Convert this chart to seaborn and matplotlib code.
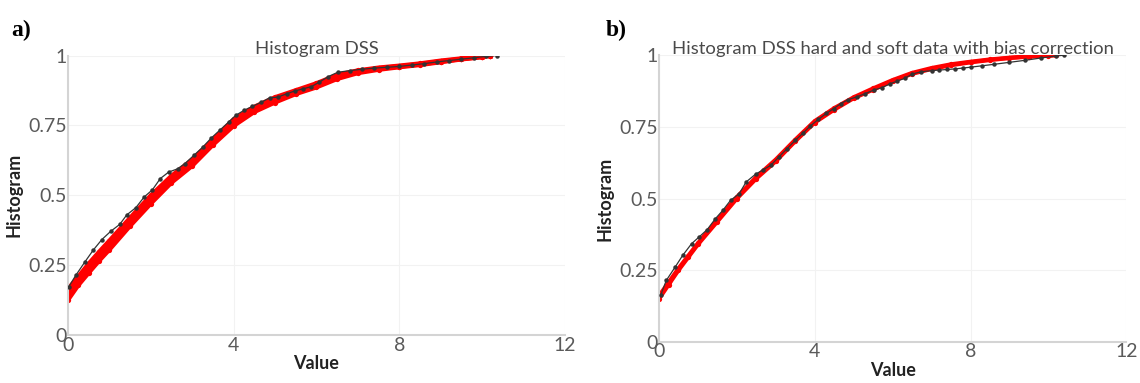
import matplotlib
matplotlib.use("Agg")
import matplotlib.pyplot as plt
import seaborn as sns

# ---------------- data ----------------
# Panel a: observed (black) histogram
obs_a_x = [0.02, 0.19, 0.41, 0.61, 0.82, 1.03, 1.25, 1.42, 1.64, 1.84, 2.04, 2.23, 2.43, 2.65,
           2.82, 3.04, 3.26, 3.46, 3.66, 3.88, 4.05, 4.25, 4.45, 4.67, 4.87, 5.06, 5.28, 5.47,
           5.68, 5.88, 6.07, 6.29, 6.51, 6.8, 7.1, 7.4, 7.7, 8.0, 8.3, 8.6, 8.9, 9.2, 9.5, 9.8,
           10.1, 10.35]
obs_a_y = [0.173, 0.214, 0.262, 0.304, 0.342, 0.371, 0.396, 0.430, 0.456, 0.494, 0.520, 0.560,
           0.583, 0.595, 0.613, 0.643, 0.673, 0.705, 0.732, 0.762, 0.786, 0.804, 0.818, 0.833,
           0.849, 0.851, 0.863, 0.873, 0.881, 0.889, 0.905, 0.925, 0.940, 0.946, 0.951, 0.955,
           0.958, 0.961, 0.966, 0.971, 0.977, 0.982, 0.987, 0.992, 0.997, 1.000]

# Panel a: simulated realizations (red)
sim_x = [0, 0.25, 0.5, 0.75, 1, 1.5, 2, 2.5, 3, 3.5, 4, 4.5, 5, 5.5, 6, 6.5, 7, 7.5, 8, 8.5,
         9, 9.5, 10, 10.2]
sim_a_1 = [0.125, 0.178, 0.222, 0.265, 0.305, 0.390, 0.470, 0.545, 0.605, 0.680, 0.748, 0.798,
           0.832, 0.862, 0.886, 0.916, 0.937, 0.949, 0.958, 0.966, 0.976, 0.986, 0.994, 1.000]
sim_a_2 = [0.140, 0.190, 0.236, 0.280, 0.320, 0.403, 0.482, 0.553, 0.613, 0.688, 0.757, 0.806,
           0.840, 0.866, 0.891, 0.921, 0.941, 0.952, 0.960, 0.968, 0.978, 0.987, 0.995, 1.000]
sim_a_3 = [0.152, 0.200, 0.247, 0.290, 0.330, 0.412, 0.491, 0.561, 0.620, 0.694, 0.764, 0.812,
           0.846, 0.871, 0.896, 0.926, 0.944, 0.955, 0.962, 0.970, 0.980, 0.988, 0.996, 1.000]
sim_a_4 = [0.165, 0.210, 0.256, 0.298, 0.338, 0.420, 0.500, 0.570, 0.628, 0.700, 0.772, 0.817,
           0.851, 0.876, 0.901, 0.931, 0.947, 0.957, 0.964, 0.972, 0.982, 0.990, 0.997, 1.000]

# Panel b: observed (black)
obs_b_x = [0.05, 0.19, 0.42, 0.61, 0.84, 1.03, 1.24, 1.45, 1.64, 1.84, 2.06, 2.24, 2.48, 2.66,
           2.87, 3.08, 3.29, 3.50, 3.69, 3.88, 4.09, 4.30, 4.49, 4.67, 4.86, 5.09, 5.30, 5.51,
           5.73, 5.92, 6.12, 6.31, 6.50, 6.73, 7.0, 7.2, 7.4, 7.6, 7.8, 8.0, 8.3, 8.6, 9.0, 9.4,
           9.8, 10.2, 10.4]
obs_b_y = [0.165, 0.215, 0.262, 0.302, 0.343, 0.366, 0.392, 0.430, 0.459, 0.494, 0.517, 0.558,
           0.585, 0.599, 0.616, 0.645, 0.674, 0.703, 0.727, 0.752, 0.776, 0.797, 0.814, 0.831,
           0.845, 0.855, 0.866, 0.878, 0.887, 0.899, 0.910, 0.919, 0.934, 0.942, 0.946, 0.948,
           0.950, 0.952, 0.955, 0.958, 0.963, 0.968, 0.975, 0.982, 0.990, 0.997, 1.000]

# Panel b: simulated realizations (red)
sim_b_1 = [0.150, 0.200, 0.250, 0.295, 0.340, 0.420, 0.500, 0.570, 0.630, 0.700, 0.765, 0.810,
           0.850, 0.880, 0.910, 0.935, 0.952, 0.965, 0.975, 0.983, 0.990, 0.995, 0.998, 1.000]
sim_b_2 = [0.160, 0.208, 0.256, 0.300, 0.344, 0.425, 0.505, 0.575, 0.636, 0.705, 0.770, 0.815,
           0.853, 0.884, 0.913, 0.938, 0.955, 0.968, 0.977, 0.985, 0.991, 0.996, 0.999, 1.000]

titles = ["Histogram DSS", "Histogram DSS hard and soft data with bias correction"]
panel_labels = ["a)", "b)"]
x_ticks = [0, 4, 8, 12]
y_ticks = [0, 0.25, 0.5, 0.75, 1]
y_tick_labels = ["0", "0.25", "0.5", "0.75", "1"]

# ---------------- plot ----------------
sns.set_theme(style="white")
plt.rcParams["font.family"] = ["Lato", "DejaVu Sans"]

fig = plt.figure(figsize=(11.4, 3.83), dpi=100)
ax_a = fig.add_axes([0.0596, 0.125, 0.436, 0.73])
ax_b = fig.add_axes([0.578, 0.107, 0.410, 0.749])

panels = [
    (ax_a, [sim_a_1, sim_a_2, sim_a_3, sim_a_4], obs_a_x, obs_a_y),
    (ax_b, [sim_b_1, sim_b_2], obs_b_x, obs_b_y),
]

for i, (ax, sims, ox, oy) in enumerate(panels):
    for s in sims:
        sns.lineplot(x=sim_x, y=s, ax=ax, color="#ff0000", lw=3.0, marker="o",
                     markersize=3.8, markeredgewidth=0, estimator=None, sort=False, zorder=2)
    sns.lineplot(x=ox, y=oy, ax=ax, color="#333333", lw=0.9, marker="o", markersize=3.2,
                 markeredgewidth=0, estimator=None, sort=False, zorder=3)
    ax.set_xlim(0, 12)
    ax.set_ylim(0, 1)
    ax.set_xticks(x_ticks)
    ax.set_yticks(y_ticks)
    ax.set_yticklabels(y_tick_labels)
    ax.grid(True, color="#f2f2f2", lw=0.8)
    for side in ["top", "right"]:
        ax.spines[side].set_visible(False)
    for side in ["left", "bottom"]:
        ax.spines[side].set_color("#d4d4d4")
        ax.spines[side].set_linewidth(1.5)
    ax.tick_params(axis="both", labelsize=14, colors="#5a5a5a", length=0, pad=1)
    ax.set_xlabel("Value", fontsize=13, fontweight="bold", color="#222222", labelpad=1)
    ax.set_ylabel("Histogram", fontsize=13, fontweight="bold", color="#222222", labelpad=4)
    ax.set_title(titles[i], fontsize=13.3, color="#4a4a4a", pad=1)

fig.text(0.010, 0.905, panel_labels[0], fontsize=17, fontweight="bold",
         family="Liberation Serif", color="black")
fig.text(0.531, 0.905, panel_labels[1], fontsize=17, fontweight="bold",
         family="Liberation Serif", color="black")

fig.savefig("out.png", dpi=100)
